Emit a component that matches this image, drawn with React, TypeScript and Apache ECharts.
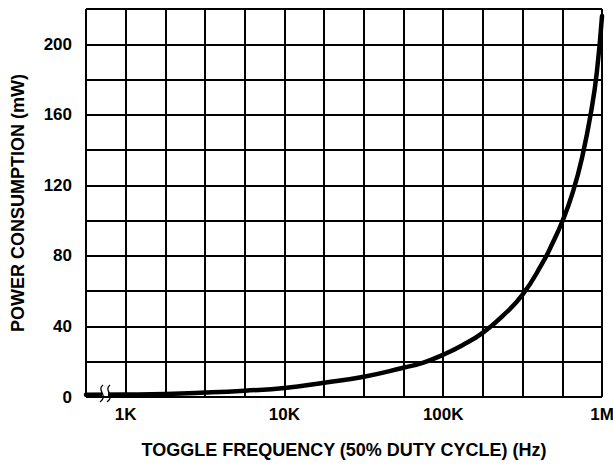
import React, { useEffect, useRef } from "react";
import * as echarts from "echarts";

// Toggle frequency (Hz) and power consumption (mW)
const frequencies = [
  562.34, 1000, 1778, 3162, 5623, 10000, 17783, 31623, 56234, 75000, 100000,
  133000, 178000, 237000, 316000, 422000, 487000, 562000, 649000, 750000,
  866000, 930000, 1000000,
];
const powerMw = [
  1.3, 1.4, 1.7, 2.5, 3.6, 5.1, 8.1, 11.5, 16.6, 19.5, 24,
  29.5, 36.5, 46, 58, 76, 87, 99.5, 115, 136,
  165, 185, 216,
];

const xTickLabels: Record<string, string> = { "3": "1K", "4": "10K", "5": "100K", "6": "1M" };
const yLabelValues = [0, 40, 80, 120, 160, 200];

const X_MIN = Math.pow(10, 2.75);
const X_MAX = 1e6;
const QUARTER_DECADES = 13;

const FONT = "'Liberation Sans', Arial, Helvetica, sans-serif";

export default function App() {
  const ref = useRef<HTMLDivElement>(null);

  useEffect(() => {
    if (!ref.current) return;
    const chart = echarts.init(ref.current, undefined, { renderer: "svg" });

    const gridLine = { show: true, lineStyle: { color: "#000", width: 2, type: "solid" as const } };

    chart.setOption({
      animation: false,
      backgroundColor: "#fff",
      grid: { left: 86, right: 11, top: 9, bottom: 69, containLabel: false, outerBoundsMode: "none" },
      xAxis: [
        {
          type: "log",
          logBase: 10,
          min: X_MIN,
          max: X_MAX,
          position: "bottom",
          axisLine: { show: false },
          axisTick: { show: false },
          splitLine: { show: false },
          minorSplitLine: { show: false },
          axisLabel: {
            show: true,
            margin: 9,
            color: "#000",
            fontWeight: "bold",
            fontSize: 17,
            fontFamily: FONT,
            showMinLabel: true,
            showMaxLabel: true,
            formatter: (v: number) => {
              const k = String(Math.round(Math.log10(v) * 1000) / 1000);
              return xTickLabels[k] || "";
            },
          },
          name: "TOGGLE FREQUENCY (50% DUTY CYCLE) (Hz)",
          nameLocation: "middle",
          nameGap: 44,
          nameMoveOverlap: false,
          nameTextStyle: { color: "#000", fontWeight: "bold", fontSize: 18, fontFamily: FONT },
        },
        {
          type: "value",
          min: 0,
          max: QUARTER_DECADES,
          interval: 1,
          position: "bottom",
          axisLine: { show: false },
          axisTick: { show: false },
          axisLabel: { show: false },
          splitLine: gridLine,
        },
      ],
      yAxis: {
        type: "value",
        min: 0,
        max: 220,
        interval: 20,
        axisLine: { show: false },
        axisTick: { show: false },
        splitLine: gridLine,
        axisLabel: {
          margin: 14,
          color: "#000",
          fontWeight: "bold",
          fontSize: 17,
          fontFamily: FONT,
          formatter: (v: number) => (yLabelValues.indexOf(v) >= 0 ? String(v) : ""),
        },
        name: "POWER CONSUMPTION (mW)",
        nameLocation: "middle",
        nameGap: 59,
        nameMoveOverlap: false,
        nameTextStyle: { color: "#000", fontWeight: "bold", fontSize: 18, fontFamily: FONT },
      },
      series: [
        {
          type: "line",
          xAxisIndex: 0,
          yAxisIndex: 0,
          data: frequencies.map((f, i) => [f, powerMw[i]]),
          smooth: 0.5,
          showSymbol: false,
          symbol: "none",
          lineStyle: { color: "#000", width: 4.5, join: "round", cap: "round" },
          z: 5,
        },
      ],
      graphic: [
        {
          type: "rect",
          z: 100,
          shape: { x: 102, y: 388, width: 6, height: 8 },
          style: { fill: "#fff" },
        },
        {
          type: "bezierCurve",
          z: 101,
          shape: { x1: 103, y1: 385, cpx1: 96, cpy1: 390, cpx2: 109, cpy2: 396, x2: 100, y2: 402 },
          style: { stroke: "#000", lineWidth: 1.3, fill: "none" },
        },
        {
          type: "bezierCurve",
          z: 101,
          shape: { x1: 110, y1: 385, cpx1: 103, cpy1: 390, cpx2: 116, cpy2: 396, x2: 107, y2: 402 },
          style: { stroke: "#000", lineWidth: 1.3, fill: "none" },
        },
      ],
    });

    return () => chart.dispose();
  }, []);

  return (
    <div
      ref={ref}
      style={{ position: "fixed", left: 0, top: 0, width: 613, height: 466, background: "#fff" }}
    />
  );
}
